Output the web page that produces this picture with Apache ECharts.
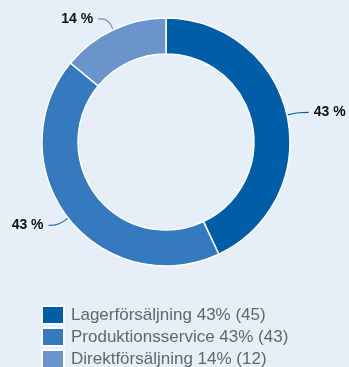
<!DOCTYPE html>
<html><head><meta charset="utf-8">
<script src="https://cdn.jsdelivr.net/npm/echarts@6/dist/echarts.min.js"></script>
<style>html,body{margin:0;padding:0;background:#e6eef8;}#c{width:349px;height:367px;}</style>
</head><body><div id="c"></div>
<script>
const categories = ['Lagerförsäljning', 'Produktionsservice', 'Direktförsäljning'];
const shares = [43, 43, 14];
const counts = [45, 43, 12];
const colors = ['#005ea8', '#3579bf', '#6b93cc'];

const chart = echarts.init(document.getElementById('c'), null, {renderer: 'canvas'});
chart.setOption({
  backgroundColor: '#e6eef8',
  animation: false,
  legend: {
    orient: 'vertical', left: 41, top: 305, height: 100, width: 300,
    itemWidth: 22, itemHeight: 18, itemGap: 2, icon: 'rect', padding: 0,
    textStyle: {fontFamily: 'Liberation Sans, Arial', fontSize: 17, color: '#5e6872', padding: [0,0,0,2]},
    formatter: function (n) { const i = categories.indexOf(n); return n + ' ' + shares[i] + '% (' + counts[i] + ')'; },
    data: categories
  },
  series: [{
    type: 'pie',
    center: [166, 142],
    radius: [88, 124],
    startAngle: 90,
    clockwise: true,
    itemStyle: {borderColor: '#ffffff', borderWidth: 1.5},
    label: {
      show: true,
      overflow: 'none',
      formatter: function (p) { return shares[p.dataIndex] + ' %'; },
      fontFamily: 'Liberation Sans, Arial', fontSize: 14, fontWeight: 'bold', color: '#111111'
    },
    labelLine: {show: true, length: 12, length2: 10, smooth: 0.4, lineStyle: {width: 1.2}},
    data: categories.map((c, i) => ({name: c, value: shares[i], itemStyle: {color: colors[i]}}))
  }]
});
</script></body></html>
